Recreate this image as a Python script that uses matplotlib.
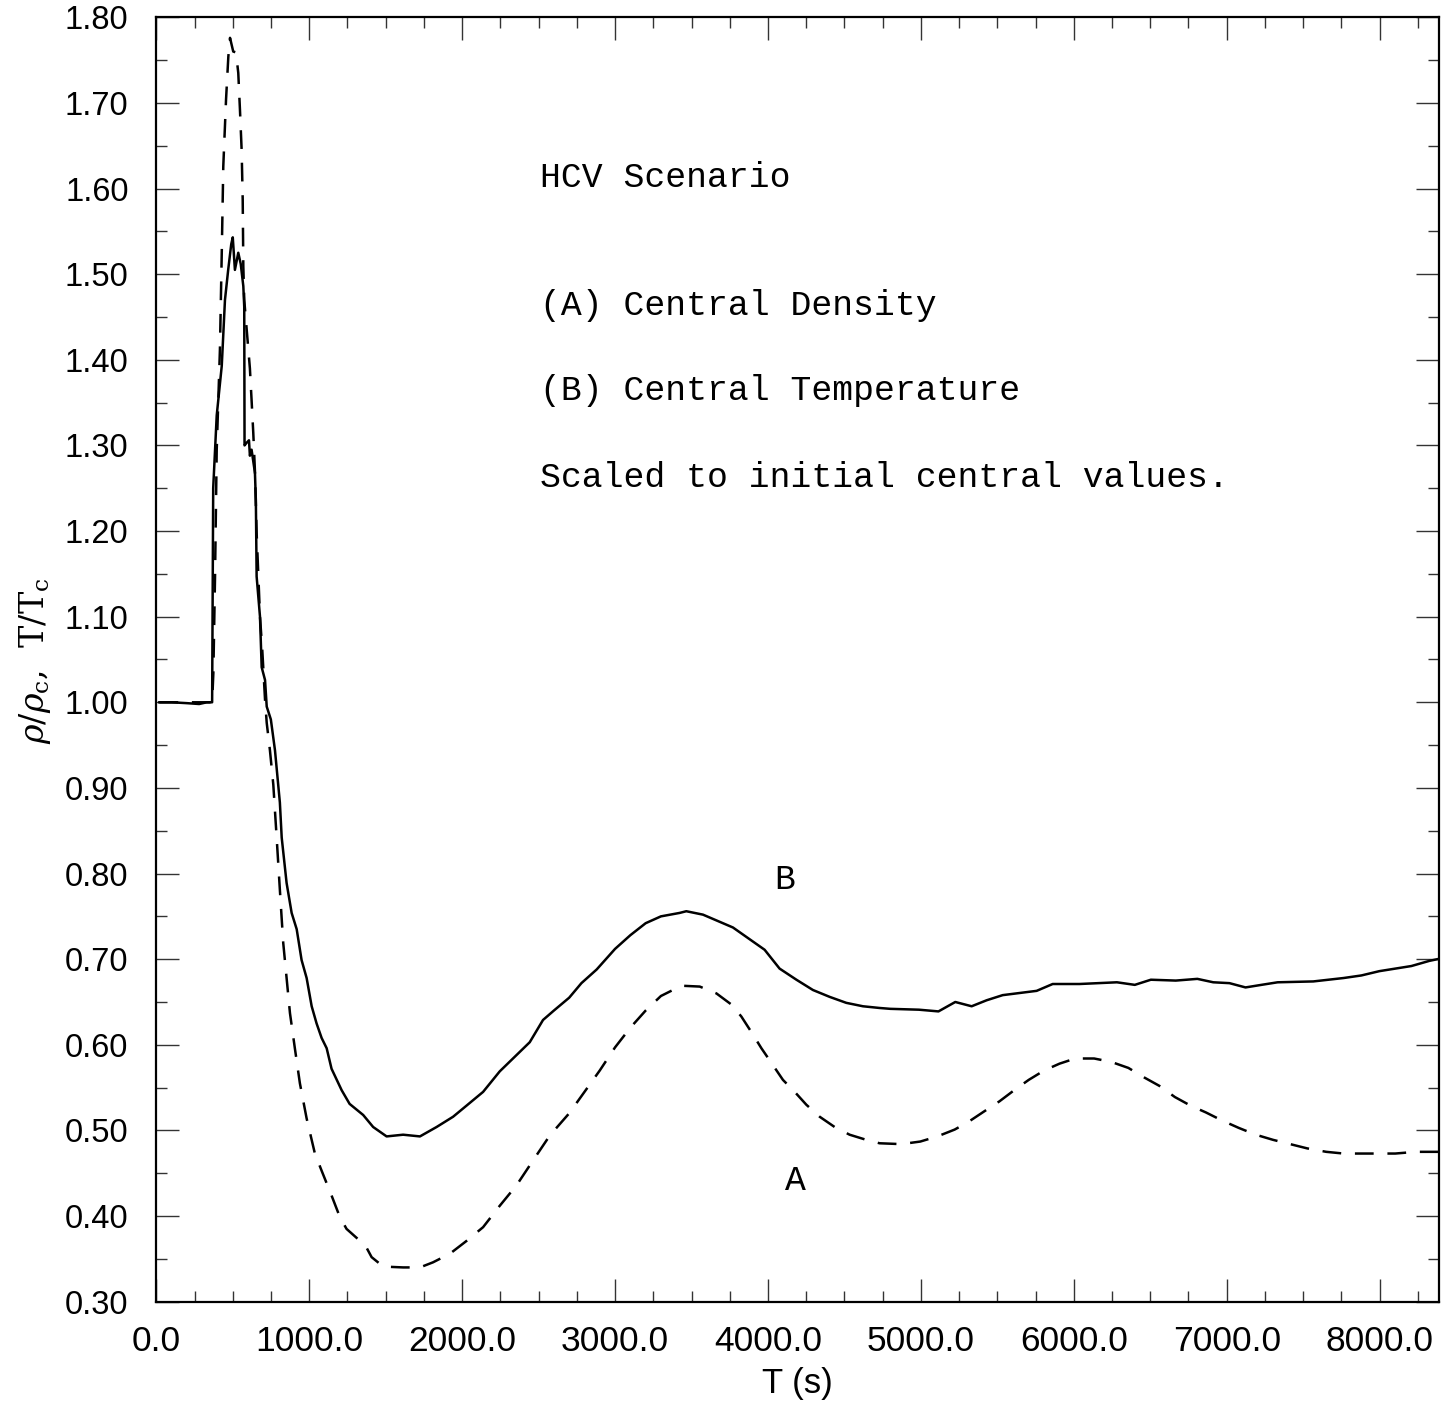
import numpy as np
import matplotlib.pyplot as plt
from matplotlib.ticker import MultipleLocator, FormatStrFormatter

# (B) central temperature, scaled to initial value
t_temp = [20, 100, 200, 280, 330, 365, 372, 395, 428, 449, 470, 490, 500, 514,
          536, 552, 569, 575, 577, 590, 606, 612, 623, 645, 651, 656, 678, 689,
          711, 722, 749, 776, 808, 820, 852, 885, 918, 950, 983, 1016, 1048,
          1081, 1114, 1146, 1212, 1264, 1353, 1418, 1506, 1614, 1724, 1833,
          1941, 2029, 2137, 2246, 2442, 2529, 2600, 2700, 2780, 2880, 3000,
          3100, 3200, 3300, 3422, 3466, 3575, 3771, 3978, 4076, 4186, 4294,
          4403, 4512, 4621, 4730, 4800, 4987, 5115, 5225, 5332, 5430, 5535,
          5757, 5862, 6037, 6282, 6399, 6504, 6667, 6808, 6912, 7018, 7123,
          7227, 7333, 7566, 7765, 7881, 7998, 8208, 8325, 8378]
temp = [1.000, 1.000, 0.999, 0.998, 1.000, 1.000, 1.250, 1.335, 1.393, 1.470,
        1.505, 1.535, 1.543, 1.505, 1.525, 1.512, 1.486, 1.462, 1.300, 1.303,
        1.306, 1.288, 1.295, 1.268, 1.236, 1.147, 1.100, 1.041, 1.026, 0.995,
        0.980, 0.944, 0.883, 0.842, 0.789, 0.754, 0.735, 0.699, 0.678, 0.645,
        0.625, 0.608, 0.596, 0.572, 0.547, 0.531, 0.518, 0.504, 0.493, 0.495,
        0.493, 0.504, 0.516, 0.529, 0.545, 0.569, 0.603, 0.629, 0.640, 0.655,
        0.672, 0.688, 0.712, 0.728, 0.742, 0.750, 0.754, 0.756, 0.752, 0.737,
        0.711, 0.689, 0.676, 0.664, 0.656, 0.649, 0.645, 0.643, 0.642, 0.641,
        0.639, 0.650, 0.645, 0.652, 0.658, 0.663, 0.671, 0.671, 0.673, 0.670,
        0.676, 0.675, 0.677, 0.673, 0.672, 0.667, 0.670, 0.673, 0.674, 0.678,
        0.681, 0.686, 0.692, 0.698, 0.700]

# (A) central density, scaled to initial value
t_dens = [20, 200, 365, 373, 384, 395, 416, 428, 438, 456, 471, 482, 503, 521,
          536, 547, 558, 565, 569, 575, 612, 623, 634, 645, 656, 678, 693, 711,
          722, 743, 765, 787, 808, 830, 852, 874, 906, 939, 983, 1037, 1081,
          1146, 1200, 1244, 1332, 1375, 1408, 1484, 1614, 1724, 1810, 1920,
          2029, 2137, 2246, 2356, 2464, 2573, 2700, 2800, 2900, 3000, 3100,
          3200, 3300, 3434, 3554, 3663, 3761, 3826, 3891, 3957, 4022, 4098,
          4175, 4251, 4338, 4436, 4534, 4643, 4730, 4872, 4996, 5108, 5221,
          5311, 5412, 5514, 5603, 5705, 5806, 5907, 6009, 6133, 6245, 6357,
          6459, 6560, 6661, 6763, 6864, 6965, 7078, 7190, 7303, 7415, 7527,
          7651, 7764, 7877, 7989, 8102, 8237, 8383]
dens = [1.000, 1.000, 1.000, 1.034, 1.147, 1.295, 1.412, 1.525, 1.626, 1.704,
        1.754, 1.776, 1.760, 1.759, 1.735, 1.692, 1.645, 1.587, 1.509, 1.470,
        1.390, 1.353, 1.315, 1.270, 1.198, 1.100, 1.061, 1.003, 0.976, 0.944,
        0.904, 0.842, 0.781, 0.719, 0.678, 0.637, 0.596, 0.555, 0.514, 0.473,
        0.453, 0.424, 0.399, 0.385, 0.371, 0.363, 0.352, 0.341, 0.340, 0.340,
        0.346, 0.356, 0.371, 0.387, 0.412, 0.436, 0.465, 0.494, 0.520, 0.545,
        0.570, 0.597, 0.620, 0.640, 0.657, 0.669, 0.668, 0.660, 0.647, 0.633,
        0.615, 0.596, 0.579, 0.559, 0.545, 0.530, 0.516, 0.504, 0.495, 0.489,
        0.485, 0.484, 0.487, 0.493, 0.501, 0.510, 0.522, 0.534, 0.546, 0.559,
        0.570, 0.578, 0.584, 0.584, 0.580, 0.573, 0.562, 0.552, 0.539, 0.529,
        0.521, 0.512, 0.503, 0.495, 0.489, 0.484, 0.479, 0.475, 0.473, 0.473,
        0.473, 0.473, 0.475, 0.475]

notes = ["HCV Scenario", "(A) Central Density", "(B) Central Temperature",
         "Scaled to initial central values."]
note_y = [1.613, 1.463, 1.364, 1.263]

plt.rcParams['font.family'] = ['Liberation Sans', 'DejaVu Sans']
plt.rcParams['mathtext.fontset'] = 'dejavuserif'

fig = plt.figure(figsize=(14.42, 14.06), dpi=100)
ax = fig.add_axes([0.1084, 0.0742, 0.8897, 0.9135])

ax.plot(t_dens, dens, color='black', lw=1.8, dashes=(7.5, 5.5))
ax.plot(t_temp, temp, color='black', lw=1.8)

ax.set_xlim(0, 8390)
ax.set_ylim(0.30, 1.80)

ax.xaxis.set_major_locator(MultipleLocator(1000))
ax.xaxis.set_minor_locator(MultipleLocator(250))
ax.yaxis.set_major_locator(MultipleLocator(0.1))
ax.yaxis.set_minor_locator(MultipleLocator(0.05))
ax.xaxis.set_major_formatter(FormatStrFormatter('%.1f'))
ax.yaxis.set_major_formatter(FormatStrFormatter('%.2f'))

ax.tick_params(which='both', direction='in', top=True, right=True,
               width=1.0, color='#333333')
ax.tick_params(which='major', length=16.5)
ax.tick_params(which='minor', length=8.2)
ax.tick_params(axis='y', pad=20, labelsize=23.5)
ax.tick_params(axis='x', pad=17, labelsize=25.5)
for sp in ax.spines.values():
    sp.set_linewidth(1.6)

ax.set_xlabel('T (s)', fontsize=25, labelpad=6)
fig.text(0.024, 0.53, r'$\rho/\rho_{\rm c}$,  T/T$_{\rm c}$', rotation=90,
         fontsize=24, family='DejaVu Serif', ha='center', va='center')

mono = 'Liberation Mono'
for s, y in zip(notes, note_y):
    ax.text(2508, y, s, family=mono, fontsize=25,
            ha='left', va='center')
ax.text(4109, 0.793, 'B', family=mono, fontsize=25,
        ha='center', va='center')
ax.text(4181, 0.441, 'A', family=mono, fontsize=25,
        ha='center', va='center')

fig.savefig('out.png', dpi=100)
